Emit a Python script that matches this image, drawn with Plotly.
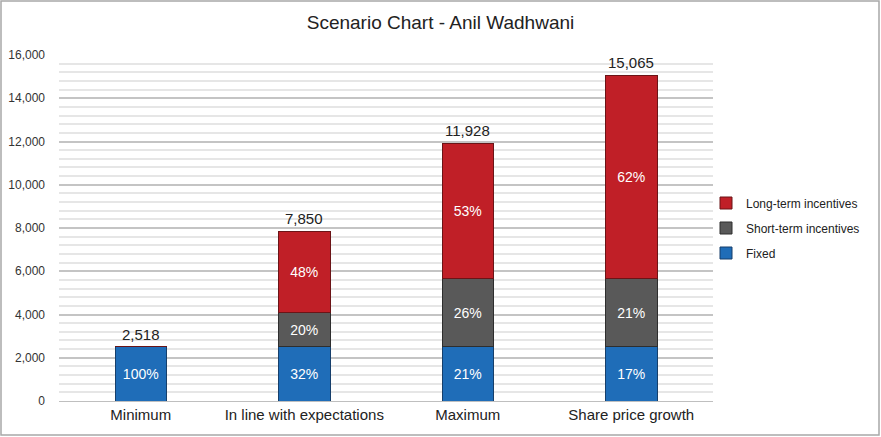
import plotly.graph_objects as go

categories = ["Minimum", "In line with expectations", "Maximum", "Share price growth"]
fixed = [2518, 2518, 2518, 2518]
short_term = [0, 1570, 3140, 3140]
long_term = [0, 3762, 6270, 9407]
totals = [2518, 7850, 11928, 15065]

W, H = 881, 437
L, R, T, B = 59, 168, 55, 36
pw, ph = W - L - R, H - T - B
FONT = "Liberation Sans, Arial, sans-serif"

def pct(vals):
    return [f"{round(v / t * 100)}%" if v > 0 else "" for v, t in zip(vals, totals)]

series = [
    ("Fixed", fixed, "#1f6db8", "#163f6b", 3),
    ("Short-term incentives", short_term, "#595959", "#2e2e2e", 2),
    ("Long-term incentives", long_term, "#c01f27", "#6b1417", 1),
]

fig = go.Figure()
for name, vals, col, edge, rank in series:
    fig.add_trace(go.Bar(
        x=categories, y=vals, name=name, legendgroup=name, legendrank=rank,
        marker=dict(color=col, line=dict(color=edge, width=1)),
        text=pct(vals), textposition="inside", insidetextanchor="middle",
        textangle=0,
        textfont=dict(family=FONT, size=14, color="white"),
        hoverinfo="skip",
    ))

for c, t in zip(categories, totals):
    fig.add_annotation(x=c, y=t, text=f"{t:,}", showarrow=False, yanchor="bottom", yshift=2,
                       font=dict(family=FONT, size=15, color="#222222"))

fig.add_shape(type="rect", xref="paper", yref="paper",
              x0=-(L - 1) / pw, x1=1 + (R - 2) / pw,
              y0=-(B - 2) / ph, y1=1 + (T - 1) / ph,
              line=dict(color="#a8a8a8", width=1.5), fillcolor="rgba(0,0,0,0)", layer="below")

fig.update_layout(
    width=W, height=H,
    margin=dict(l=L, r=R, t=T, b=B, pad=0, autoexpand=False),
    barmode="stack", bargap=0.685,
    paper_bgcolor="white", plot_bgcolor="white",
    font=dict(family=FONT, color="#333333"),
    title=dict(text="Scenario Chart - Anil Wadhwani", x=0.5, xref="container", xanchor="center",
               y=1 - 22 / H, yanchor="middle",
               font=dict(size=19, color="#222222")),
    legend=dict(traceorder="grouped", x=(706 - L) / pw, xanchor="left",
                y=(H - B - 228) / ph, yanchor="middle",
                font=dict(size=12, color="#222222"), itemwidth=30, tracegroupgap=6,
                bgcolor="rgba(0,0,0,0)"),
    showlegend=True,
)
fig.update_xaxes(showgrid=False, showline=True, linecolor="#bfbfbf", linewidth=1,
                 ticks="", tickfont=dict(size=15, color="#222222"), fixedrange=True)
fig.update_yaxes(range=[0, 16000], dtick=2000, tickformat=",d",
                 showgrid=True, gridcolor="#c4c4c4", gridwidth=1.5,
                 minor=dict(dtick=400, showgrid=True, gridcolor="#e6e6e6", gridwidth=1.5),
                 zeroline=False, showline=False, ticks="", ticklabelstandoff=13,
                 tickfont=dict(size=12, color="#333333"), fixedrange=True)

fig.write_html("out.html", config={"displayModeBar": False},
               post_script="document.body.style.margin='0';")
